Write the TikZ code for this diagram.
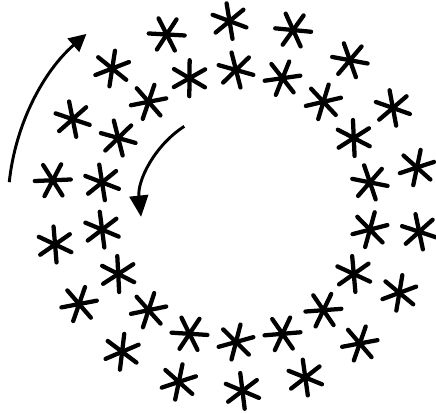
\documentclass[tikz,border=0pt]{standalone}
\usepackage{tikz}
\usetikzlibrary{arrows.meta}
\tikzset{
  spoke/.style={line width=3.2pt, line cap=round, black},
  asterisk/.pic={
    \foreach \s in {0,60,120}
      \draw[spoke] (\s:-18) -- (\s:18);
  },
  turn/.style={line width=2.2pt, black}
}

\begin{document}
\begin{tikzpicture}[x=0.75pt, y=0.75pt]
  \useasboundingbox (-236,-206) rectangle (200,206);
  \pgfmathsetseed{11}

  % outer ring
  \foreach \k in {0,...,17} {
    \pgfmathsetmacro\rot{rnd*60}
    \pic[rotate=\rot] at (92+20*\k:185) {asterisk};
  }

  % inner ring
  \foreach \k in {0,...,17} {
    \pgfmathsetmacro\rot{rnd*60}
    \pic[rotate=\rot] at (90+20*\k:136) {asterisk};
  }

  % directions of turning
  \draw[turn, -{Triangle[length=13pt, width=13pt]}] (174:228) arc[start angle=174, end angle=131, radius=228];
  \draw[turn, -{Triangle[length=16pt, width=14pt]}] (123:95) arc[start angle=123, end angle=186, radius=96];
\end{tikzpicture}
\end{document}
